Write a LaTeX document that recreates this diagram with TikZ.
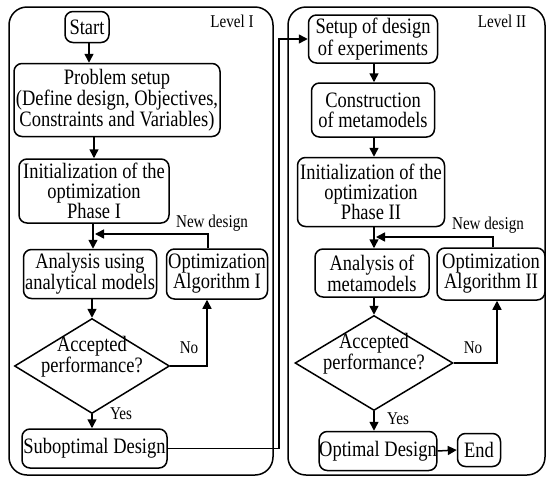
\documentclass[tikz,border=0pt]{standalone}
\usepackage{fontspec}
\setmainfont{Liberation Serif}[FakeStretch=0.84]
\usetikzlibrary{shapes.geometric,arrows.meta}
\begin{document}
\begin{tikzpicture}[x=1pt,y=-1pt,
  lw/.style={line width=1.5pt},
  box/.style={draw,lw,rounded corners=8pt,align=center,inner sep=0pt,font=\fontsize{22}{20}\selectfont},
  decision/.style={draw,lw,diamond,aspect=1.63,inner sep=0pt,minimum width=155pt,minimum height=95pt},
  dtext/.style={align=center,inner sep=0pt,font=\fontsize{22}{18}\selectfont},
  small/.style={inner sep=0pt,font=\fontsize{18}{18}\selectfont},
  panel/.style={draw,lw,rounded corners=18pt},
  arr/.style={lw,-{Triangle[length=9pt,width=9pt]}},
  conn/.style={lw}]
\useasboundingbox (0,0) rectangle (547,477);
% panels
\draw[panel] (9,7) rectangle (273,475);
\draw[panel] (288,7) rectangle (545,475);
\node[small] (lev1) at (232,21) {Level I};
\node[small] (lev2) at (502,21) {Level II};
% left column
\node[box,minimum width=44pt,minimum height=31pt] (start) at (87,27) {Start};
\node[box,minimum width=206pt,minimum height=73pt] (prob) at (117,100) {Problem setup\\(Define design, Objectives,\\Constraints and Variables)};
\node[box,minimum width=150pt,minimum height=64pt] (init1) at (94,191) {Initialization of the\\optimization\\Phase I};
\node[box,minimum width=133pt,minimum height=49pt] (an1) at (90,274) {Analysis using\\analytical models};
\node[box,minimum width=101pt,minimum height=50pt] (opt1) at (217,274) {Optimization\\Algorithm I};
\node[decision] (d1) at (92,366) {};
\node[dtext] (d1t) at (92,357) {Accepted\\performance?};
\node[box,minimum width=145pt,minimum height=39pt] (sub) at (94.5,448.5) {Suboptimal Design};
\node[small] (nd1) at (212,223) {New design};
\node[small] (no1) at (189,348) {No};
\node[small] (yes1) at (121,414) {Yes};
% right column
\node[box,minimum width=129pt,minimum height=48pt] (setup) at (373,39) {Setup of design\\of experiments};
\node[box,minimum width=123pt,minimum height=54pt] (cons) at (373,110) {Construction\\of metamodels};
\node[box,minimum width=147pt,minimum height=69pt] (init2) at (371,192) {Initialization of the\\optimization\\Phase II};
\node[box,minimum width=114pt,minimum height=48pt] (an2) at (372,273) {Analysis of\\metamodels};
\node[box,minimum width=108pt,minimum height=52pt] (opt2) at (491,274) {Optimization\\Algorithm II};
\node[decision,minimum width=158pt] (d2) at (374,363) {};
\node[dtext] (d2t) at (374,354) {Accepted\\performance?};
\node[box,minimum width=116pt,minimum height=39pt] (optd) at (378,451) {Optimal Design};
\node[box,minimum width=43pt,minimum height=33pt] (end) at (479,450) {End};
\node[small] (nd2) at (488,225) {New design};
\node[small] (no2) at (473,348) {No};
\node[small] (yes2) at (398,419) {Yes};
% coordinates
\coordinate (m1) at (93,234);
\coordinate (m2) at (374,237);
\coordinate (c1) at (279,39);
% left connectors
\draw[arr] (start.south -| 89,0) -- (prob.north -| 89,0);
\draw[arr] (prob.south -| init1.north) -- (init1.north);
\draw[arr] (init1.south -| m1) -- (an1.north -| m1);
\draw[arr] ([xshift=-9pt]opt1.north) |- ([xshift=2pt]m1);
\draw[arr] (an1.south -| d1.north) -- (d1.north);
\draw[arr] (d1.east) -| ([xshift=-10pt]opt1.south);
\draw[arr] (d1.south) -- (d1.south |- sub.north);
\draw[arr] (sub.east) -| (c1) |- (setup.west);
% right connectors
\draw[arr] (setup.south -| 374,0) -- (cons.north -| 374,0);
\draw[arr] (cons.south -| 374,0) -- (init2.north -| 374,0);
\draw[arr] (init2.south -| m2) -- (an2.north -| m2);
\draw[arr] ([xshift=2pt]opt2.north) |- ([xshift=2pt]m2);
\draw[arr] (an2.south -| d2.north) -- (d2.north);
\draw[arr] (d2.east) -| ([xshift=6pt]opt2.south);
\draw[arr] (d2.south) -- (d2.south |- optd.north);
\draw[arr] (optd.east) -- (end.west);
\end{tikzpicture}
\end{document}
